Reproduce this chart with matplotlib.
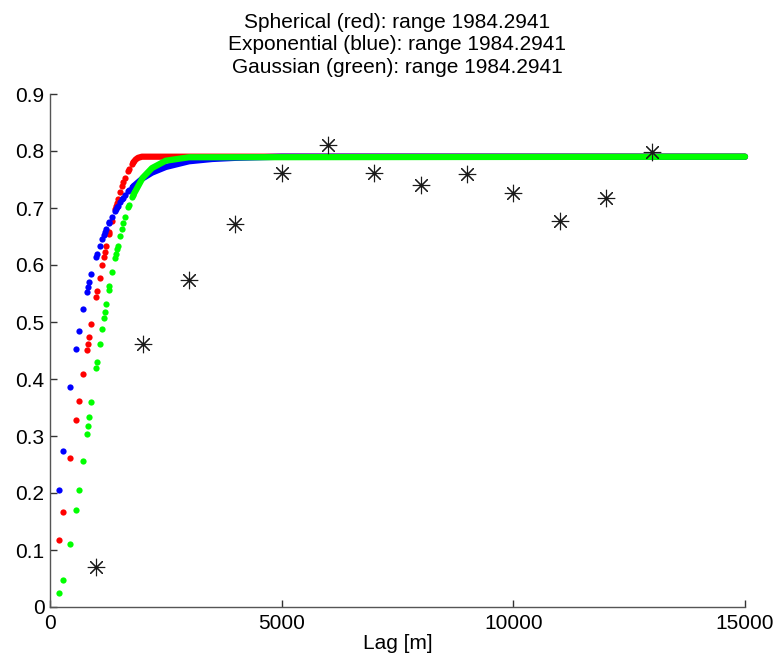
import numpy as np
import matplotlib.pyplot as plt

plt.rcParams['font.family'] = ['Liberation Sans', 'DejaVu Sans']

# experimental variogram (stars)
exp_lag = [1000, 2000, 3000, 4000, 5000, 6000, 7000, 8000, 9000, 10000, 11000, 12000, 13000]
exp_gamma = [0.071, 0.462, 0.574, 0.672, 0.762, 0.810, 0.762, 0.740, 0.759, 0.727, 0.677, 0.717, 0.799]

# model values at the sparse pair distances
lags = [194, 277, 439, 561, 619, 708, 795, 818, 842, 892, 990, 1014, 1071, 1120, 1158,
        1180, 1210, 1265, 1278, 1335, 1400, 1420, 1440, 1460, 1510, 1555, 1585, 1620,
        1690, 1712, 1777, 1800]
sph = [0.118, 0.167, 0.261, 0.328, 0.362, 0.409, 0.451, 0.462, 0.474, 0.497, 0.544, 0.554,
       0.578, 0.600, 0.614, 0.622, 0.634, 0.654, 0.658, 0.677, 0.698, 0.704, 0.709, 0.715,
       0.728, 0.739, 0.745, 0.753, 0.765, 0.769, 0.778, 0.780]
expo = [0.205, 0.273, 0.386, 0.452, 0.484, 0.522, 0.553, 0.562, 0.570, 0.585, 0.614, 0.619,
        0.633, 0.645, 0.653, 0.658, 0.664, 0.674, 0.676, 0.685, 0.695, 0.698, 0.701, 0.703,
        0.710, 0.715, 0.718, 0.722, 0.729, 0.731, 0.736, 0.738]
gau = [0.024, 0.047, 0.110, 0.170, 0.205, 0.256, 0.304, 0.318, 0.333, 0.360, 0.419, 0.430,
       0.462, 0.488, 0.507, 0.518, 0.532, 0.557, 0.563, 0.588, 0.612, 0.620, 0.628, 0.634,
       0.651, 0.664, 0.674, 0.684, 0.701, 0.706, 0.719, 0.723]

# dense part of each model (drawn as a solid band)
sph_tail_x = [1800, 1850, 1900, 1984, 15000]
sph_tail_y = [0.780, 0.785, 0.788, 0.790, 0.790]
exp_tail_x = [1800, 2000, 2200, 2500, 3000, 3500, 4000, 5000, 15000]
exp_tail_y = [0.738, 0.752, 0.762, 0.772, 0.782, 0.786, 0.788, 0.790, 0.790]
gau_tail_x = [1800, 2000, 2200, 2500, 3000, 15000]
gau_tail_y = [0.723, 0.753, 0.770, 0.783, 0.789, 0.790]

fig = plt.figure(figsize=(7.78, 6.66), dpi=100)
ax = fig.add_axes([50/778, 1-607/666, 695/778, 513/666])

ms = 4.5
for xs, ys, tx, ty, col in [(lags, sph, sph_tail_x, sph_tail_y, '#ff0000'),
                            (lags, expo, exp_tail_x, exp_tail_y, '#0000ff'),
                            (lags, gau, gau_tail_x, gau_tail_y, '#00ff00')]:
    ax.plot(xs, ys, 'o', color=col, ms=ms, mew=0, clip_on=False)
    ax.plot(tx, ty, '-', color=col, lw=ms, solid_capstyle='round', clip_on=False)

ax.plot(exp_lag, exp_gamma, linestyle='none', marker=(8, 2, 0), ms=12.5, mew=0.8,
        color='#1a1a1a', clip_on=False)

ax.set_xlim(0, 15000)
ax.set_ylim(0, 0.9)
ax.set_xticks([0, 5000, 10000, 15000])
ax.set_xticklabels(['0', '5000', '10000', '15000'])
ax.set_yticks(np.arange(0, 0.95, 0.1))
ax.set_yticklabels(['0', '0.1', '0.2', '0.3', '0.4', '0.5', '0.6', '0.7', '0.8', '0.9'])
ax.tick_params(direction='in', length=5, width=1, labelsize=15, colors='#333333',
               labelcolor='black')
ax.tick_params(axis='x', pad=5)
ax.tick_params(axis='y', pad=4)
for s in ['top', 'right']:
    ax.spines[s].set_visible(False)
for s in ['left', 'bottom']:
    ax.spines[s].set_color('#555555')
    ax.spines[s].set_linewidth(1)

ax.set_xlabel('Lag [m]', fontsize=15, labelpad=1)
ax.set_title('Spherical (red): range 1984.2941\nExponential (blue): range 1984.2941\n'
             'Gaussian (green): range 1984.2941', fontsize=15, linespacing=1.25, pad=15)

fig.savefig('out.png', dpi=100)
